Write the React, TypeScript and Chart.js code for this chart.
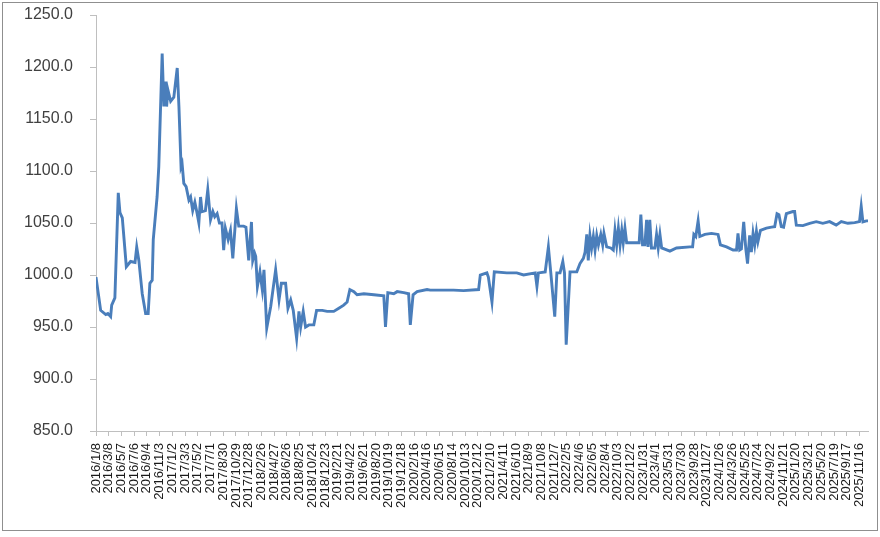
import React, { useEffect, useRef } from "react";
import { Chart, registerables } from "chart.js";

Chart.register(...registerables);

const tickLabels: string[] = [
  "2016/1/8", "2016/3/8", "2016/5/7", "2016/7/6", "2016/9/4", "2016/11/3",
  "2017/1/2", "2017/3/3", "2017/5/2", "2017/7/1", "2017/8/30", "2017/10/29", "2017/12/28",
  "2018/2/26", "2018/4/27", "2018/6/26", "2018/8/25", "2018/10/24", "2018/12/23",
  "2019/2/21", "2019/4/22", "2019/6/21", "2019/8/20", "2019/10/19", "2019/12/18",
  "2020/2/16", "2020/4/16", "2020/6/15", "2020/8/14", "2020/10/13", "2020/12/12",
  "2021/2/10", "2021/4/11", "2021/6/10", "2021/8/9", "2021/10/8", "2021/12/7",
  "2022/2/5", "2022/4/6", "2022/6/5", "2022/8/4", "2022/10/3", "2022/12/2",
  "2023/1/31", "2023/4/1", "2023/5/31", "2023/7/30", "2023/9/28", "2023/11/27",
  "2024/1/26", "2024/3/26", "2024/5/25", "2024/7/24", "2024/9/22", "2024/11/21",
  "2025/1/20", "2025/3/21", "2025/5/20", "2025/7/19", "2025/9/17", "2025/11/16",
];

const dates: string[] = [
  "2016/1/8", "2016/1/30", "2016/2/23", "2016/3/4", "2016/3/17", "2016/3/22", "2016/4/6", "2016/4/22",
  "2016/4/30", "2016/5/11", "2016/5/30", "2016/6/19", "2016/7/10", "2016/7/18", "2016/7/28", "2016/8/13",
  "2016/8/29", "2016/9/10", "2016/9/18", "2016/9/29", "2016/10/4", "2016/10/22", "2016/10/30", "2016/11/15",
  "2016/11/23", "2016/12/1", "2016/12/6", "2016/12/12", "2016/12/25", "2017/1/9", "2017/1/25", "2017/2/2",
  "2017/2/12", "2017/2/17", "2017/2/25", "2017/3/8", "2017/3/21", "2017/3/29", "2017/4/8", "2017/4/18",
  "2017/4/29", "2017/5/7", "2017/5/15", "2017/5/22", "2017/6/7", "2017/6/18", "2017/7/1", "2017/7/12",
  "2017/7/21", "2017/8/1", "2017/8/12", "2017/8/24", "2017/9/1", "2017/9/9", "2017/9/22", "2017/10/3",
  "2017/10/14", "2017/10/31", "2017/11/11", "2017/12/4", "2017/12/15", "2017/12/28", "2018/1/10", "2018/1/16",
  "2018/1/25", "2018/1/30", "2018/2/7", "2018/2/19", "2018/3/2", "2018/3/10", "2018/3/23", "2018/4/11",
  "2018/5/4", "2018/5/20", "2018/5/31", "2018/6/20", "2018/7/1", "2018/7/14", "2018/7/26", "2018/8/11",
  "2018/8/22", "2018/8/30", "2018/9/11", "2018/9/22", "2018/10/8", "2018/10/31", "2018/11/13", "2018/12/10",
  "2019/1/2", "2019/2/2", "2019/2/26", "2019/3/21", "2019/4/6", "2019/4/19", "2019/5/8", "2019/5/23",
  "2019/6/24", "2019/8/10", "2019/9/26", "2019/10/4", "2019/10/15", "2019/11/12", "2019/11/28", "2019/12/29",
  "2020/1/21", "2020/1/29", "2020/2/11", "2020/3/1", "2020/4/17", "2020/5/2", "2020/8/20", "2020/10/6",
  "2020/12/16", "2020/12/24", "2021/1/24", "2021/1/31", "2021/2/17", "2021/2/28", "2021/4/28", "2021/6/14",
  "2021/7/16", "2021/9/9", "2021/9/17", "2021/9/24", "2021/10/26", "2021/11/10", "2021/11/21", "2021/12/10",
  "2021/12/20", "2022/1/4", "2022/1/17", "2022/1/25", "2022/2/2", "2022/2/20", "2022/3/24", "2022/4/8",
  "2022/4/24", "2022/5/2", "2022/5/10", "2022/5/17", "2022/5/25", "2022/6/2", "2022/6/10", "2022/6/18",
  "2022/6/26", "2022/7/4", "2022/7/15", "2022/7/24", "2022/7/30", "2022/8/12", "2022/8/31", "2022/9/12",
  "2022/9/20", "2022/9/28", "2022/10/6", "2022/10/14", "2022/10/22", "2022/10/29", "2022/11/6", "2022/11/14",
  "2022/12/31", "2023/1/12", "2023/1/20", "2023/1/28", "2023/2/8", "2023/2/16", "2023/2/23", "2023/3/3",
  "2023/3/11", "2023/3/27", "2023/4/4", "2023/4/12", "2023/4/20", "2023/4/28", "2023/6/6", "2023/7/7",
  "2023/9/8", "2023/9/21", "2023/9/27", "2023/10/6", "2023/10/17", "2023/10/25", "2023/11/18", "2023/12/19",
  "2024/1/19", "2024/1/30", "2024/2/28", "2024/3/30", "2024/4/15", "2024/4/22", "2024/4/30", "2024/5/8",
  "2024/5/19", "2024/5/29", "2024/6/6", "2024/6/16", "2024/6/24", "2024/7/2", "2024/7/10", "2024/7/18",
  "2024/7/25", "2024/8/6", "2024/9/3", "2024/9/27", "2024/10/12", "2024/10/23", "2024/11/1", "2024/11/12",
  "2024/11/23", "2024/12/6", "2025/1/6", "2025/1/14", "2025/1/22", "2025/2/22", "2025/3/26", "2025/4/26",
  "2025/5/27", "2025/6/28", "2025/7/29", "2025/8/22", "2025/9/22", "2025/10/24", "2025/11/16", "2025/11/24",
  "2025/12/2", "2025/12/18", "2025/12/26",
];

const values: number[] = [
  998, 966, 962, 963, 960, 971, 978, 1079,
  1060, 1055, 1008, 1013, 1012, 1027, 1014, 982,
  963, 963, 992, 995, 1034, 1075, 1104, 1213,
  1162, 1186, 1162, 1178, 1167, 1171, 1199, 1162,
  1104, 1107, 1088, 1085, 1072, 1075, 1062, 1070,
  1059, 1050, 1075, 1061, 1062, 1082, 1053, 1061,
  1056, 1059, 1050, 1050, 1024, 1045, 1034, 1043,
  1016, 1064, 1047, 1047, 1046, 1014, 1051, 1014,
  1021, 1018, 989, 1003, 986, 1005, 949, 970,
  1005, 976, 992, 992, 968, 976, 966, 939,
  965, 950, 965, 950, 952, 952, 966, 966,
  965, 965, 968, 971, 974, 986, 984, 981,
  982, 981, 980, 950, 983, 982, 984, 983,
  982, 952, 981, 984, 986, 985.5, 985.5, 985,
  986, 1000, 1002, 998, 974, 1003, 1002, 1002,
  1000, 1002, 989, 1002, 1003, 1027, 1003, 960,
  1002, 1002, 1013, 1002, 933, 1003, 1003, 1011,
  1016, 1022, 1039, 1014, 1038, 1026, 1037, 1024,
  1038, 1029, 1039, 1029, 1040, 1027, 1026, 1024,
  1043, 1029, 1045, 1029, 1043, 1031, 1045, 1031,
  1031, 1031, 1058, 1029, 1029, 1053, 1027, 1053,
  1026, 1026, 1039, 1026, 1039, 1026, 1023, 1026,
  1027, 1027, 1039, 1037, 1052, 1037, 1039, 1040,
  1039, 1029, 1027, 1024, 1024, 1040, 1024, 1025,
  1051, 1025, 1011, 1038, 1022, 1040, 1029, 1042,
  1032, 1043, 1045, 1046, 1046.5, 1059, 1058, 1046.5,
  1046, 1059, 1061, 1061, 1048, 1047.5, 1049.7, 1051.3,
  1049.7, 1051.3, 1048, 1051.3, 1049.7, 1050.3, 1051.3, 1066,
  1051, 1052, 1052,
];

const yTicks: number[] = [850, 900, 950, 1000, 1050, 1100, 1150, 1200, 1250];

const BASE = Date.UTC(2016, 0, 8);
const DAY = 86400000;
function toDay(s: string): number {
  const [y, m, d] = s.split("/").map(Number);
  return Math.round((Date.UTC(y, m - 1, d) - BASE) / DAY);
}
function fmtDay(v: number): string {
  const dt = new Date(BASE + v * DAY);
  return `${dt.getUTCFullYear()}/${dt.getUTCMonth() + 1}/${dt.getUTCDate()}`;
}

export default function App() {
  const ref = useRef<HTMLCanvasElement | null>(null);
  useEffect(() => {
    if (!ref.current) return;
    const pts = dates.map((d, i) => ({ x: toDay(d), y: values[i] }));
    const tickDays = tickLabels.map(toDay);
    const maxDay = toDay(dates[dates.length - 1]);
    const axisColor = "#bfbfbf";
    const chart = new Chart(ref.current, {
      type: "line",
      data: {
        datasets: [
          {
            data: pts,
            borderColor: "#4a7ebb",
            borderWidth: 2.9,
            pointRadius: 0,
            tension: 0,
            fill: false,
          },
        ],
      },
      options: {
        animation: false,
        responsive: false,
        events: [],
        layout: { padding: { left: 0, right: 12, top: 15, bottom: 0 } },
        plugins: { legend: { display: false }, tooltip: { enabled: false } },
        scales: {
          x: {
            type: "linear",
            min: 0,
            max: maxDay,
            afterBuildTicks: (s: any) => {
              s.ticks = tickDays.map((v) => ({ value: v }));
            },
            afterFit: (s: any) => {
              s.height = 106;
              s.paddingLeft = 0;
              s.paddingRight = 0;
              s.paddingTop = 0;
              s.paddingBottom = 0;
            },
            grid: {
              drawOnChartArea: false,
              drawTicks: true,
              tickLength: 5,
              tickColor: axisColor,
            },
            border: { display: true, color: axisColor, width: 1 },
            ticks: {
              autoSkip: false,
              maxRotation: 90,
              minRotation: 90,
              padding: 7,
              color: "#1a1a1a",
              font: { family: "'Liberation Sans', Arial, sans-serif", size: 13 },
              callback: (v: any) => fmtDay(Number(v)),
            },
          },
          y: {
            type: "linear",
            min: 850,
            max: 1250,
            afterBuildTicks: (s: any) => {
              s.ticks = yTicks.map((v) => ({ value: v }));
            },
            afterFit: (s: any) => {
              s.width = 96;
              s.paddingTop = 0;
              s.paddingBottom = 0;
            },
            grid: {
              drawOnChartArea: false,
              drawTicks: true,
              tickLength: 6,
              tickColor: axisColor,
            },
            border: { display: true, color: axisColor, width: 1 },
            ticks: {
              padding: 17,
              color: "#404040",
              font: { family: "'Liberation Sans', Arial, sans-serif", size: 16 },
              callback: (v: any) => Number(v).toFixed(1),
            },
          },
        },
      },
    });
    return () => chart.destroy();
  }, []);

  return (
    <div
      style={{
        position: "fixed",
        left: 0,
        top: 0,
        width: 880,
        height: 537,
        background: "#fff",
      }}
    >
      <canvas ref={ref} width={880} height={537} style={{ position: "absolute", left: 0, top: 0 }} />
      <div
        style={{
          position: "absolute",
          left: 2,
          top: 2,
          width: 874,
          height: 527,
          border: "1px solid #8f8f8f",
          pointerEvents: "none",
        }}
      />
    </div>
  );
}
